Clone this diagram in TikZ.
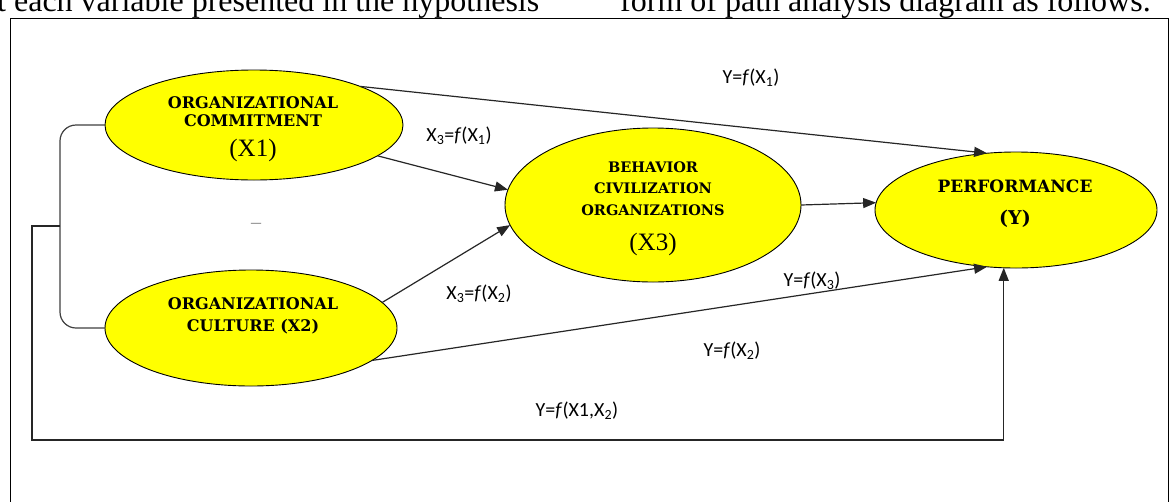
\documentclass[tikz,border=0pt]{standalone}
\usepackage{fontspec}
\setmainfont{Liberation Serif}
\newfontfamily\lblfont{Carlito}
\newfontfamily\bserif{DejaVu Serif}
\usetikzlibrary{arrows.meta,shapes.geometric}
\definecolor{ellfill}{RGB}{255,255,0}
\begin{document}
\begin{tikzpicture}[x=1pt,y=-1pt,
  ell/.style={ellipse, draw=black, line width=0.9pt, fill=ellfill, inner sep=0pt, outer sep=0pt},
  arr/.style={-{Triangle[length=13pt,width=10pt]}, line width=1.2pt, draw=black!85},
  lbl/.style={font=\lblfont\fontsize{20}{24}\selectfont, anchor=base, inner sep=0pt},
  btxt/.style={font=\bserif\bfseries\fontsize{16}{19}\selectfont, anchor=base, inner sep=0pt},
  btxts/.style={font=\bserif\bfseries\fontsize{14.5}{17}\selectfont, anchor=base, inner sep=0pt},
  xtxt/.style={font=\fontsize{25}{30}\selectfont, anchor=base, inner sep=0pt},
  toptxt/.style={font=\fontsize{32}{36}\selectfont, anchor=base west, inner sep=0pt},
]
\path[use as bounding box] (0,0) rectangle (1169,501);
\clip (0,0) rectangle (1169,501);
\fill[white] (0,0) rectangle (1169,501);

% running text above the frame
\node[toptxt] (top1) at (-3,11) {t each variable presented in the hypothesis};
\node[toptxt] (top2) at (620,11) {form of path analysis diagram as follows.};

% frame
\draw[line width=1pt] (10,520) -- (10,18) -- (1168,18) -- (1168,520);

% ellipses
\node[ell, minimum width=298pt, minimum height=110pt] (X1) at (254,125) {};
\node[ell, minimum width=292pt, minimum height=116pt] (X2) at (251,328) {};
\node[ell, minimum width=296pt, minimum height=154pt] (X3) at (653,205) {};
\node[ell, minimum width=282pt, minimum height=116pt] (Y) at (1016,210) {};

% ellipse texts
\node[btxt] (t1a) at (253,108) {ORGANIZATIONAL};
\node[btxt] (t1b) at (253,126) {COMMITMENT};
\node[xtxt] (t1c) at (253,156) {(X1)};

\node[btxt] (t2a) at (253,309) {ORGANIZATIONAL};
\node[btxt] (t2b) at (253,331) {CULTURE (X2)};

\node[btxts] (t3a) at (653,172) {BEHAVIOR};
\node[btxts] (t3b) at (653,193) {CIVILIZATION};
\node[btxts] (t3c) at (653,215) {ORGANIZATIONS};
\node[xtxt] (t3d) at (653,250) {(X3)};

\node[btxt, font=\bserif\bfseries\fontsize{17}{20}\selectfont] (t4a) at (1015,192) {PERFORMANCE};
\node[btxt, font=\bserif\bfseries\fontsize{19}{22}\selectfont] (t4b) at (1015,224) {(Y)};

% stray dash
\node[font=\fontsize{20}{24}\selectfont, text=black!45, inner sep=0pt] (dash) at (256,226) {--};

% connectors
\draw[arr] (X1.20) -- (Y.117);
\draw[arr] (X1.-14.6) -- (X3.174.9);
\draw[arr] (X2.11.2) -- (X3.188.8);
\draw[arr] (X3.0.8) -- (Y.177.2);
\draw[arr] (X2.-15.7) -- (Y.243.8);

% bracket joining X1 and X2
\coordinate (brk) at (60,226);
\draw[line width=1.2pt, draw=black!75, rounded corners=16pt] (X1.west) -| (brk) |- (X2.west);

% joint path to Y
\coordinate (bl) at (32,226);
\coordinate (br) at (32,440);
\draw[arr] (brk) -- (bl) -- (br) -| (Y.258);

% labels
\node[lbl] (l1) at (751,83.5) {Y=\textit{f}(X\textsubscript{1})};
\node[lbl] (l2) at (459,141.5) {X\textsubscript{3}=\textit{f}(X\textsubscript{1})};
\node[lbl] (l3) at (479,299.5) {X\textsubscript{3}=\textit{f}(X\textsubscript{2})};
\node[lbl] (l4) at (812,286.5) {Y=\textit{f}(X\textsubscript{3})};
\node[lbl] (l5) at (732,356.5) {Y=\textit{f}(X\textsubscript{2})};
\node[lbl] (l6) at (577,416.5) {Y=\textit{f}(X1,X\textsubscript{2})};
\end{tikzpicture}
\end{document}
